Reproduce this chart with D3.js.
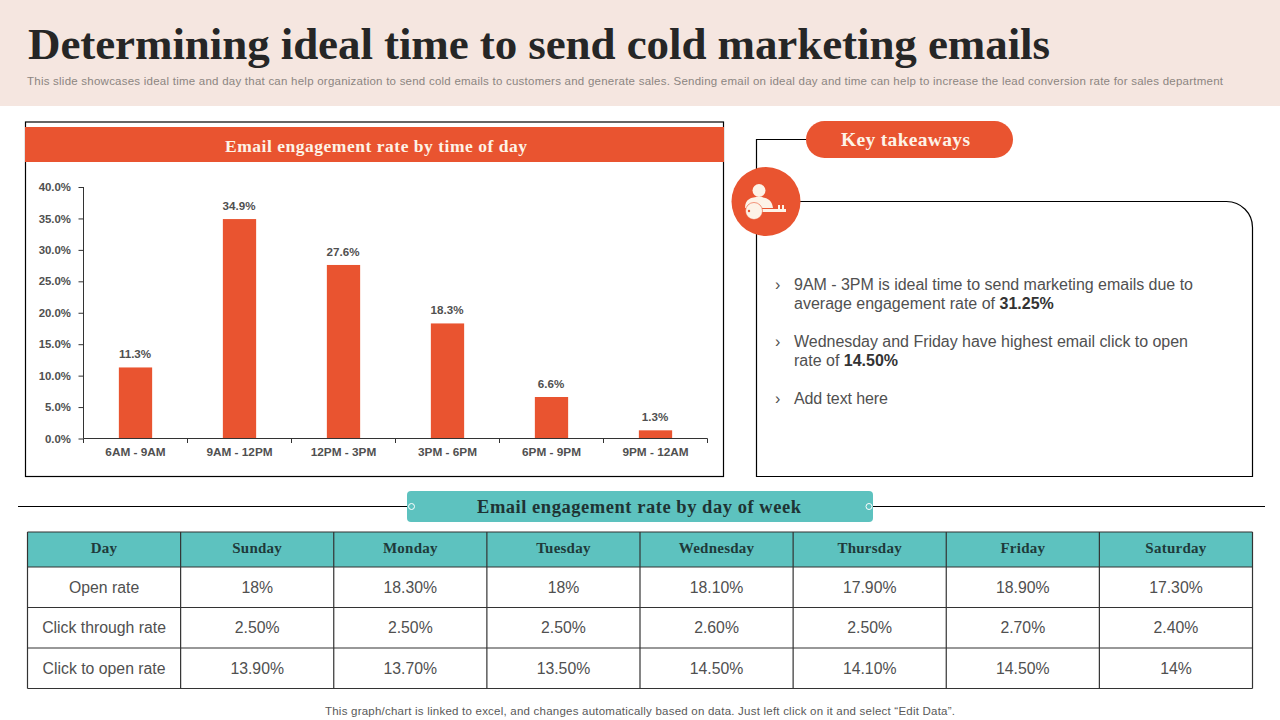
<!DOCTYPE html>
<html><head><meta charset="utf-8">
<script src="https://cdn.jsdelivr.net/npm/d3@7"></script>
<style>html,body{margin:0;padding:0;background:#fff;overflow:hidden}svg{display:block}text{font-family:"Liberation Sans",Arial,sans-serif}.serif{font-family:"Liberation Serif",serif}</style>
</head><body><div id="c"></div>
<script>
const timeSlots=["6AM - 9AM","9AM - 12PM","12PM - 3PM","3PM - 6PM","6PM - 9PM","9PM - 12AM"];
const engagement=[11.3,34.9,27.6,18.3,6.6,1.3];
const yTicks=[0,5,10,15,20,25,30,35,40];
const tableHeader=["Day","Sunday","Monday","Tuesday","Wednesday","Thursday","Friday","Saturday"];
const openRate=["Open rate","18%","18.30%","18%","18.10%","17.90%","18.90%","17.30%"];
const clickThrough=["Click through  rate","2.50%","2.50%","2.50%","2.60%","2.50%","2.70%","2.40%"];
const clickToOpen=["Click to open rate","13.90%","13.70%","13.50%","14.50%","14.10%","14.50%","14%"];

const ORANGE="#E95430",TEAL="#5DC2BF",INK="#222";
const svg=d3.select("#c").append("svg").attr("width",1280).attr("height",720);
const T=(x,y,s,o={})=>{const t=svg.append("text").attr("x",x).attr("y",y).text(s)
 .attr("text-anchor",o.a||"start").attr("font-size",o.s||12).attr("fill",o.f||"#404040")
 .attr("font-weight",o.w||"normal").attr("class",o.c||null);
 if(o.l)t.attr("textLength",o.l).attr("lengthAdjust","spacing");
 if(o.ls)t.attr("letter-spacing",o.ls);return t;};

// header
svg.append("rect").attr("width",1280).attr("height",106).attr("fill","#F5E6E0");
T(28,59,"Determining ideal time to send cold marketing emails",{s:45,w:"bold",c:"serif",f:"#262626",l:1022});
T(27,85,"This slide showcases ideal time and day that  can help organization to send cold emails to customers and generate sales. Sending email on ideal day and time can help to increase the lead conversion rate for  sales department",{s:11.5,f:"#8c8580",l:1196});

// chart frame
svg.append("rect").attr("x",25.5).attr("y",122).attr("width",698).attr("height",354.5).attr("fill","#fff").attr("stroke","#000").attr("stroke-width",1.2);
svg.append("rect").attr("x",25).attr("y",127).attr("width",699).attr("height",35).attr("fill",ORANGE);
T(376,151.5,"Email engagement rate by time of day",{a:"middle",s:17.5,w:"bold",c:"serif",f:"#FDF3E7",l:302});

const x=d3.scaleBand().domain(timeSlots).range([83.5,707.5]).paddingInner(0.68).paddingOuter(0.34);
const xOuter=d3.scaleBand().domain(timeSlots).range([83.5,707.5]);
const y=d3.scaleLinear().domain([0,40]).range([438.5,187]);

svg.selectAll(".bar").data(engagement).join("rect").attr("class","bar")
 .attr("x",(d,i)=>x(timeSlots[i])).attr("width",x.bandwidth())
 .attr("y",d=>y(d)).attr("height",d=>y(0)-y(d)).attr("fill",ORANGE);
svg.selectAll(".val").data(engagement).join("text").attr("class","val")
 .attr("x",(d,i)=>xOuter(timeSlots[i])+xOuter.bandwidth()/2-0.5).attr("y",d=>y(d)-9)
 .attr("text-anchor","middle").attr("font-size",11.6).attr("font-weight","bold").attr("fill","#505050")
 .text(d=>d.toFixed(1)+"%");

const ya=svg.append("g").attr("transform","translate(83.5,0)")
 .call(d3.axisLeft(y).tickValues(yTicks).tickSize(5).tickPadding(7.5).tickFormat(d=>d.toFixed(1)+"%"));
ya.selectAll("text").attr("font-size",11.4).attr("font-weight","bold").attr("fill","#505050").attr("font-family","Liberation Sans");
ya.selectAll("path,line").attr("stroke","#333");
ya.select(".domain").attr("d","M0,187V438.5");

const xa=svg.append("g").attr("transform","translate(0,438.5)")
 .call(d3.axisBottom(xOuter).tickSize(0).tickPadding(9));
xa.selectAll("text").attr("font-size",11.8).attr("font-weight","bold").attr("fill","#505050").attr("font-family","Liberation Sans");
xa.select(".domain").attr("stroke","#333").attr("d","M83.5,0H707.5");
svg.selectAll(".xt").data(d3.range(7)).join("line").attr("class","xt")
 .attr("x1",i=>83.5+i*xOuter.bandwidth()).attr("x2",i=>83.5+i*xOuter.bandwidth())
 .attr("y1",438.5).attr("y2",443).attr("stroke","#333");

// takeaways
const pen=svg.append("g").attr("fill","none").attr("stroke","#000").attr("stroke-width",1.2);
pen.append("path").attr("d","M806,139.5H756.5V476.5H1252.5V228a26,26 0 0 0 -26,-26.5H780");
svg.append("rect").attr("x",806).attr("y",121).attr("width",207).attr("height",37).attr("rx",18.5).attr("fill",ORANGE);
T(905.5,145.5,"Key takeaways",{a:"middle",s:19.5,w:"bold",c:"serif",f:"#FDF3E7",l:129});
svg.append("circle").attr("cx",766).attr("cy",201.5).attr("r",34.5).attr("fill",ORANGE);
const ic=svg.append("g").attr("fill","#FDF3E7");
ic.append("circle").attr("cx",759).attr("cy",190.5).attr("r",6.5);
ic.append("path").attr("d","M745,208c0,-9 6,-11 14,-11s13,3 14,11z");
ic.append("rect").attr("x",755).attr("y",209).attr("width",31).attr("height",3);
ic.append("rect").attr("x",778).attr("y",205).attr("width",2).attr("height",5);
ic.append("rect").attr("x",782).attr("y",205).attr("width",2).attr("height",5);
ic.append("circle").attr("cx",754).attr("cy",211).attr("r",8.5).attr("stroke",ORANGE).attr("stroke-width",.6);
ic.append("circle").attr("cx",749).attr("cy",211).attr("r",1.2).attr("fill",ORANGE);

const TXT="#505050";
const bul=[[290,"9AM - 3PM is ideal time to send marketing emails due to"],[347,"Wednesday and Friday have highest email click to open"],[404,"Add text here"]];
bul.forEach(b=>{T(775,b[0],"›",{s:16,f:TXT});T(794,b[0],b[1],{s:16,f:TXT,l:b[1].length>20?(b[0]===290?399:394):94});});
const l2=(yy,a,b)=>{const t=T(794,yy,a,{s:16,f:TXT});t.append("tspan").attr("font-weight","bold").attr("fill","#333").text(b);};
l2(309,"average engagement rate of ","31.25%");
l2(366,"rate of ","14.50%");

// divider
svg.append("line").attr("x1",18).attr("x2",1265).attr("y1",506.5).attr("y2",506.5).attr("stroke","#000").attr("stroke-width",1.2);
svg.append("rect").attr("x",407).attr("y",491).attr("width",466).attr("height",31).attr("rx",4).attr("fill",TEAL);
[411.5,869].forEach(cx=>svg.append("circle").attr("cx",cx).attr("cy",506.5).attr("r",3).attr("fill",TEAL).attr("stroke","#fff"));
T(639,512.5,"Email engagement rate by day of week",{a:"middle",s:18.5,w:"bold",c:"serif",f:"#1f3333",l:324});

// table
const rows=[tableHeader,openRate,clickThrough,clickToOpen];
const rowEdges=[532,567,607.5,648,688.5];
const colX=d3.scaleLinear().domain([0,8]).range([27.5,1252.5]);
svg.append("rect").attr("x",colX(0)).attr("y",rowEdges[0]).attr("width",colX(8)-colX(0)).attr("height",rowEdges[1]-rowEdges[0]).attr("fill",TEAL);
rows.forEach((r,ri)=>r.forEach((c,ci)=>{
 const cx=(colX(ci)+colX(ci+1))/2,cy=(rowEdges[ri]+rowEdges[ri+1])/2;
 if(ri===0)T(cx,cy+3.5,c,{a:"middle",s:15,w:"bold",c:"serif",f:"#1f3a3a",ls:0.25});
 else T(cx,cy+5.5,c,{a:"middle",s:15.8,f:TXT});
}));
const grid=svg.append("g").attr("stroke","#333").attr("stroke-width",1.2);
rowEdges.forEach(e=>grid.append("line").attr("x1",colX(0)).attr("x2",colX(8)).attr("y1",e).attr("y2",e));
d3.range(9).forEach(i=>grid.append("line").attr("x1",colX(i)).attr("x2",colX(i)).attr("y1",rowEdges[0]).attr("y2",rowEdges[4]));

T(640,715,"This graph/chart is linked to excel,  and changes automatically based on data. Just left click on it and select “Edit Data”.",{a:"middle",s:11.5,f:"#595959",l:630});
</script></body></html>
